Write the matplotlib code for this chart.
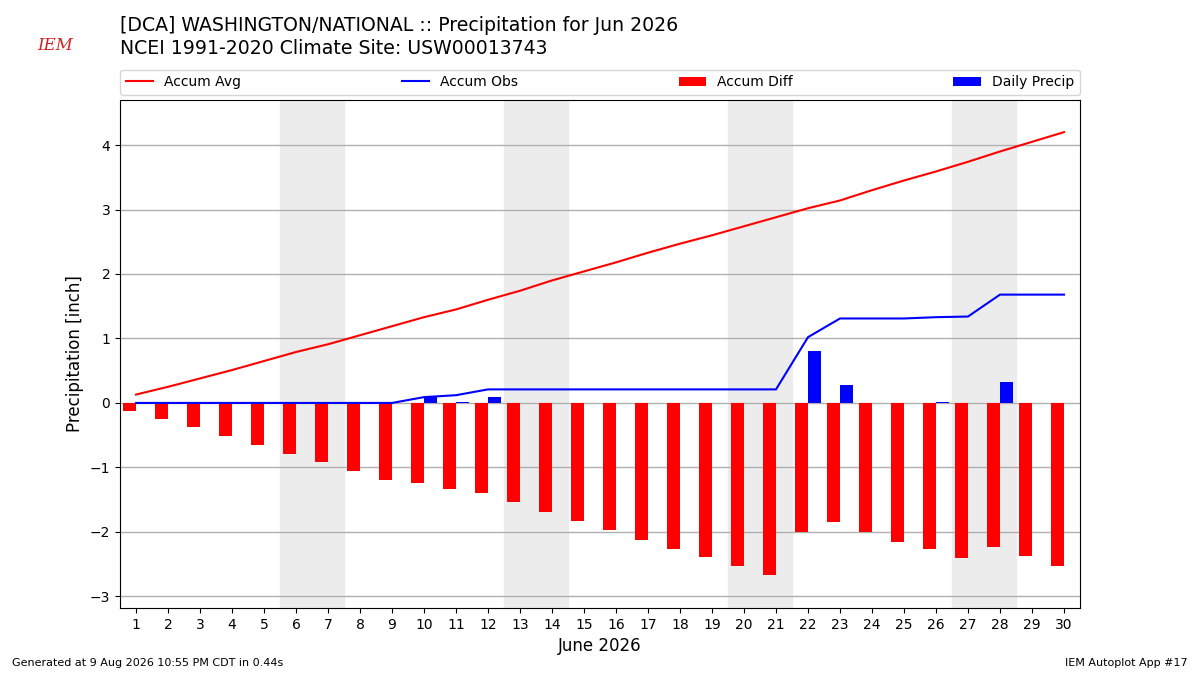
import matplotlib
matplotlib.use("Agg")
import matplotlib.pyplot as plt

# ─── Data ─────────────────────────────────────────────────────────────────────

days = list(range(1, 31))
accum_avg = [0.13, 0.25, 0.38, 0.51, 0.65, 0.79, 0.91, 1.05, 1.19, 1.33,
             1.45, 1.60, 1.74, 1.90, 2.04, 2.18, 2.33, 2.47, 2.60, 2.74,
             2.88, 3.02, 3.14, 3.30, 3.45, 3.59, 3.74, 3.90, 4.05, 4.20]
accum_obs = [0, 0, 0, 0, 0, 0, 0, 0, 0, 0.09,
             0.12, 0.21, 0.21, 0.21, 0.21, 0.21, 0.21, 0.21, 0.21, 0.21,
             0.21, 1.02, 1.31, 1.31, 1.31, 1.33, 1.34, 1.68, 1.68, 1.68]
accum_diff = [-0.13, -0.25, -0.38, -0.51, -0.65, -0.79, -0.91, -1.05, -1.19, -1.24,
              -1.33, -1.39, -1.53, -1.69, -1.83, -1.97, -2.12, -2.26, -2.39, -2.53,
              -2.67, -2.00, -1.84, -2.00, -2.15, -2.26, -2.40, -2.23, -2.37, -2.53]
daily_precip = [0, 0, 0, 0, 0, 0, 0, 0, 0, 0.09,
                0.02, 0.09, 0, 0, 0, 0, 0, 0, 0, 0,
                0, 0.81, 0.28, 0, 0, 0.02, 0, 0.33, 0, 0]
weekends = [(6, 7), (13, 14), (20, 21), (27, 28)]

# ─── Plot ─────────────────────────────────────────────────────────────────────

fig = plt.figure(figsize=(12, 6.75), dpi=100)
ax = fig.add_axes([0.1, 0.0993, 0.8, 0.7527])

for start, end in weekends:
    ax.axvspan(start - 0.5, end + 0.5, color="#ececec", zorder=0)

ax.plot(days, accum_avg, color="r", lw=1.5, label="Accum Avg", zorder=3)
ax.plot(days, accum_obs, color="b", lw=1.5, label="Accum Obs", zorder=3)
ax.bar([d - 0.4 for d in days], accum_diff, width=0.4, align="edge",
       color="r", label="Accum Diff", zorder=2)
ax.bar(days, daily_precip, width=0.4, align="edge",
       color="b", label="Daily Precip", zorder=2)

ax.set_xlim(0.5, 30.5)
ax.set_ylim(-3.18, 4.70)
ax.set_xticks(days)
ax.set_xticklabels([str(d) for d in days])
ax.grid(axis="y", color="#b0b0b0", lw=1, zorder=1)
ax.set_axisbelow(True)
ax.set_ylabel("Precipitation [inch]", fontsize=12)
ax.set_xlabel("June 2026", fontsize=12)

ax.legend(loc="lower left", bbox_to_anchor=(0, 1.01, 1, 0.08), ncol=4,
          mode="expand", borderaxespad=0, fontsize=10)

fig.text(0.1, 0.962, "[DCA] WASHINGTON/NATIONAL :: Precipitation for Jun 2026",
         fontsize=13.6, va="center")
fig.text(0.1, 0.928, "NCEI 1991-2020 Climate Site: USW00013743",
         fontsize=13.6, va="center")

# logo stand-in
fig.text(0.031, 0.933, "IEM", color="#d42020", fontsize=12,
         family="serif", style="italic", va="center")

fig.text(0.01, 0.014, "Generated at 9 Aug 2026 10:55 PM CDT in 0.44s", fontsize=8)
fig.text(0.99, 0.014, "IEM Autoplot App #17", fontsize=8, ha="right")

fig.savefig("out.png", dpi=100)
